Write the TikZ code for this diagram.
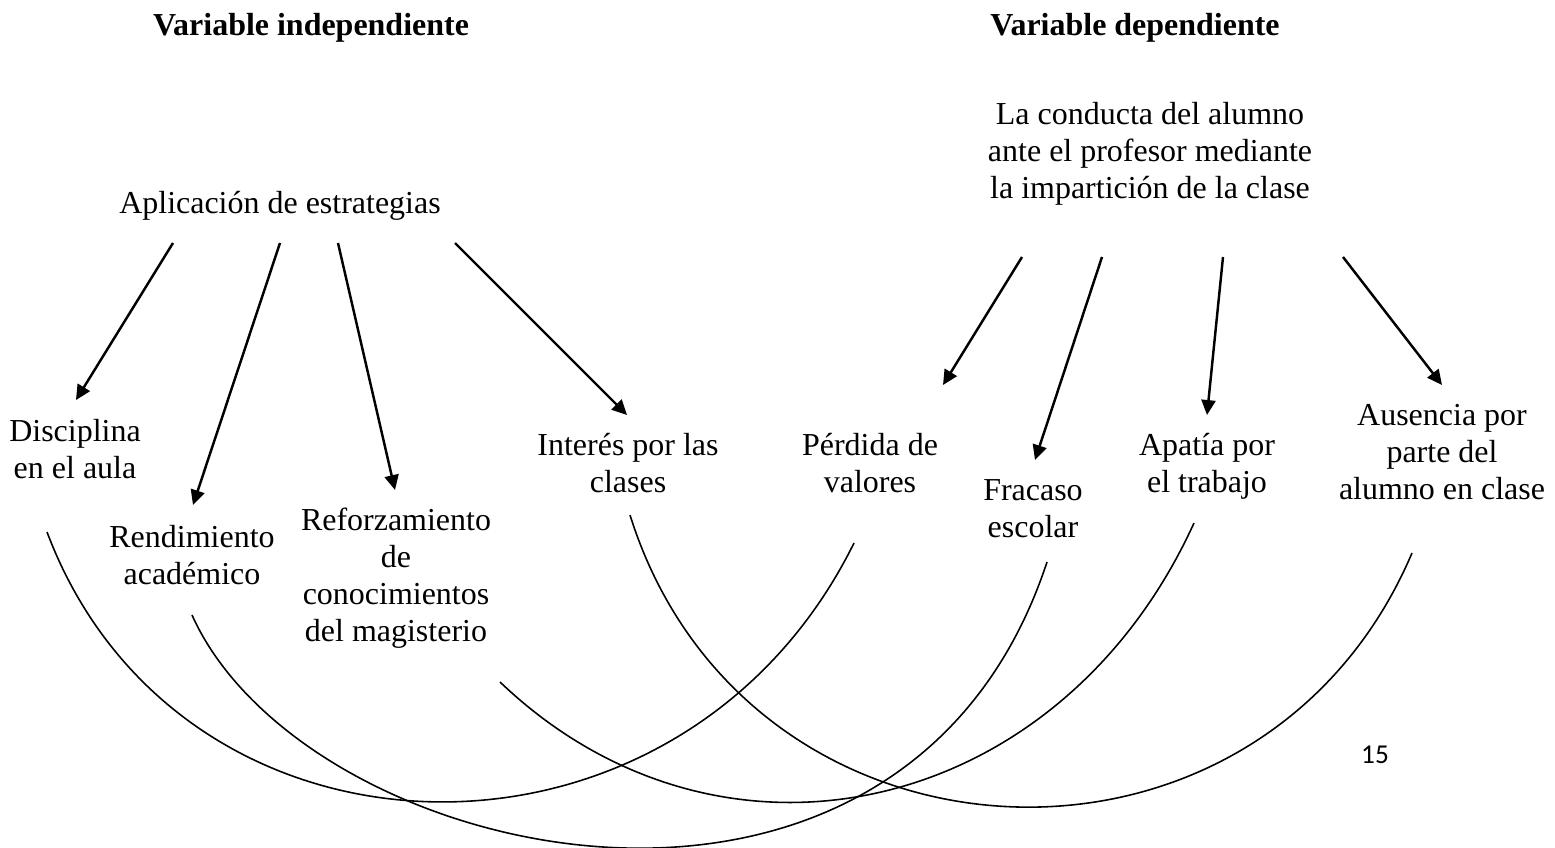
\documentclass[tikz,border=0pt]{standalone}
\usepackage{fontspec}
\setmainfont{Liberation Serif}
\newfontfamily\pagefont{Carlito}
\usepackage{tikz}
\usetikzlibrary{arrows.meta}

\begin{document}
\begin{tikzpicture}[x=0.02cm,y=-0.02cm]
            \tikzset{
                lbl/.style={align=center,anchor=base,inner sep=0pt,font=\fontsize{18.2}{20.9}\selectfont},
                hdr/.style={lbl,font=\fontsize{18.2}{20.9}\selectfont\bfseries},
                arr/.style={-{Triangle[length=8.5pt,width=8pt]},line width=1.4pt},
                lnk/.style={line width=0.9pt},}
            \useasboundingbox (0,0) rectangle (1555,848);
            % titulos
            \node[hdr] (vi) at (311,36) {Variable independiente};
            \node[hdr] (vd) at (1135,36) {Variable dependiente};
            % variable independiente (base = ultima linea)
            \node[lbl] (apl) at (280,213) {Aplicación de estrategias};
            \node[lbl] (disc) at (75,478) {Disciplina\\en el aula};
            \node[lbl] (rend) at (192,584) {Rendimiento\\académico};
            \node[lbl] (refz) at (396,641) {Reforzamiento\\de\\conocimientos\\del magisterio};
            \node[lbl] (inter) at (628,492) {Interés por las\\clases};
            % variable dependiente
            \node[lbl] (cond) at (1150,198) {La conducta del alumno\\ante el profesor mediante\\la impartición de la clase};
            \node[lbl] (perd) at (870,492) {Pérdida de\\valores};
            \node[lbl] (frac) at (1033,537) {Fracaso\\escolar};
            \node[lbl] (apat) at (1207,492) {Apatía por\\el trabajo};
            \node[lbl] (ause) at (1442,499) {Ausencia por\\parte del\\alumno en clase};
            \node[anchor=base,inner sep=0pt,font=\pagefont\fontsize{15.5}{18}\selectfont] (pag) at (1375,763) {15};
            % flechas
            \draw[arr] ([shift={(-107,30)}]apl.base) -- ([shift={(1,-78)}]disc.base);
            \draw[arr] ([shift={(0,30)}]apl.base) -- ([shift={(1,-79)}]rend.base);
            \draw[arr] ([shift={(58,30)}]apl.base) -- ([shift={(-1,-151)}]refz.base);
            \draw[arr] ([shift={(175,30)}]apl.base) -- ([shift={(-1,-77)}]inter.base);
            \draw[arr] ([shift={(-128,59)}]cond.base) -- ([shift={(73,-107)}]perd.base);
            \draw[arr] ([shift={(-48,59)}]cond.base) -- ([shift={(2,-77)}]frac.base);
            \draw[arr] ([shift={(73,59)}]cond.base) -- ([shift={(0,-77)}]apat.base);
            \draw[arr] ([shift={(193,59)}]cond.base) -- ([shift={(0,-114)}]ause.base);
            % arcos
            \draw[lnk] ([shift={(-28,54)}]disc.base) .. controls (180,885) and (680,895) .. ([shift={(-16,51)}]perd.base);
            \draw[lnk] ([shift={(0,31)}]rend.base) .. controls (304,865) and (902,1002) .. ([shift={(14,25)}]frac.base);
            \draw[lnk] ([shift={(104,41)}]refz.base) .. controls (722,894) and (1060,817) .. ([shift={(-13,31)}]apat.base);
            \draw[lnk] ([shift={(2,23)}]inter.base) .. controls (746,885) and (1260,910) .. ([shift={(-30,54)}]ause.base);
        \end{tikzpicture}
\end{document}
